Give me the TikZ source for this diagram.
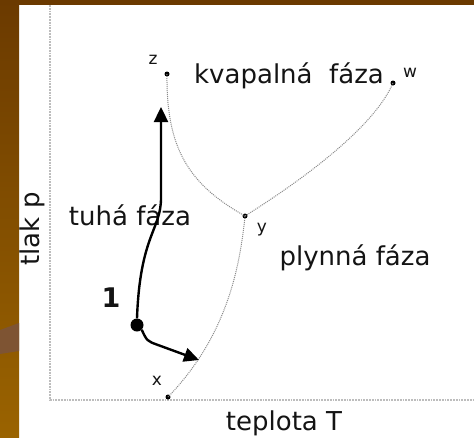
\documentclass[tikz,border=0pt]{standalone}
\usepackage{fontspec}
\setmainfont{DejaVu Sans}
\usetikzlibrary{arrows.meta}
\definecolor{SlideBrown}{HTML}{6B3A00}
\definecolor{SlideOchre}{HTML}{9A6300}
\definecolor{SlideSwoosh}{HTML}{7E5433}
\definecolor{PhaseInk}{HTML}{141414}
\definecolor{PhaseLine}{HTML}{8A8A8A}
\definecolor{AxisGray}{HTML}{BDBDBD}

\begin{document}
\begin{tikzpicture}[
	x=1pt, y=-1pt,
	font=\fontsize{26}{30}\selectfont,
	phase/.style={text=PhaseInk, inner sep=0pt, anchor=base},
	ptlabel/.style={text=PhaseInk, inner sep=0pt, anchor=base, font=\fontsize{17}{20}\selectfont},
	ptdot/.style={fill=black, circle, inner sep=0pt, minimum size=5pt},
	bigdot/.style={fill=black, circle, inner sep=0pt, minimum size=13pt},
	border/.style={draw=PhaseLine, densely dotted, line width=1pt},
	axis/.style={draw=AxisGray, densely dotted, line width=1.8pt},
	path/.style={draw=black, line width=2.4pt, -{Triangle[length=15pt,width=14pt]}}
]
\useasboundingbox (0,0) rectangle (474,437);
\fill[white] (0,0) rectangle (474,437);
\fill[SlideBrown] (0,0) rectangle (474,5);
\shade[top color=SlideBrown, bottom color=SlideOchre] (0,0) rectangle (19,437);
\fill[SlideSwoosh] (0,330) -- (19,323) -- (19,351) -- (0,354) -- cycle;

\coordinate (ytop) at (50,5);
\coordinate (xend) at (474,400);
\draw[axis] (ytop) |- (xend);

\node[ptdot] (z) at (167,74) {};
\node[ptdot] (w) at (393,83) {};
\node[ptdot] (y) at (245,216) {};
\node[ptdot] (x) at (168,397) {};

\node[ptlabel] (zlabel) at (153,64) {z};
\node[ptlabel] (wlabel) at (410,77) {w};
\node[ptlabel] (ylabel) at (262,232) {y};
\node[ptlabel] (xlabel) at (157,385) {x};

\draw[border] (z.center) .. controls (166,150) and (190,185) .. (y.center);
\draw[border] (w.center) .. controls (375,125) and (310,175) .. (y.center);
\draw[border] (y.center) .. controls (240,265) and (228,335) .. (x.center);

\node[phase] (liquid) at (289,83) {kvapalná~~fáza};
\node[phase] (solid) at (130,225) {tuhá fáza};
\node[phase] (gas) at (355,265) {plynná fáza};
\node[phase] (taxis) at (284,430) {teplota T};
\node[phase, rotate=90] (paxis) at (39,229) {tlak p};

\node[bigdot] (p1) at (137,325) {};
\node[phase, font=\fontsize{27}{30}\selectfont\bfseries] (p1label) at (111,307) {1};
\coordinate (melt) at (161,107);
\coordinate (sublime) at (199,360);

\draw[path] (p1.north) .. controls (140,235) and (161,230) .. (161,198) -- (melt);
\draw[path] (p1.south east) .. controls (147,341) .. (158,345) -- (sublime);
\end{tikzpicture}
\end{document}
